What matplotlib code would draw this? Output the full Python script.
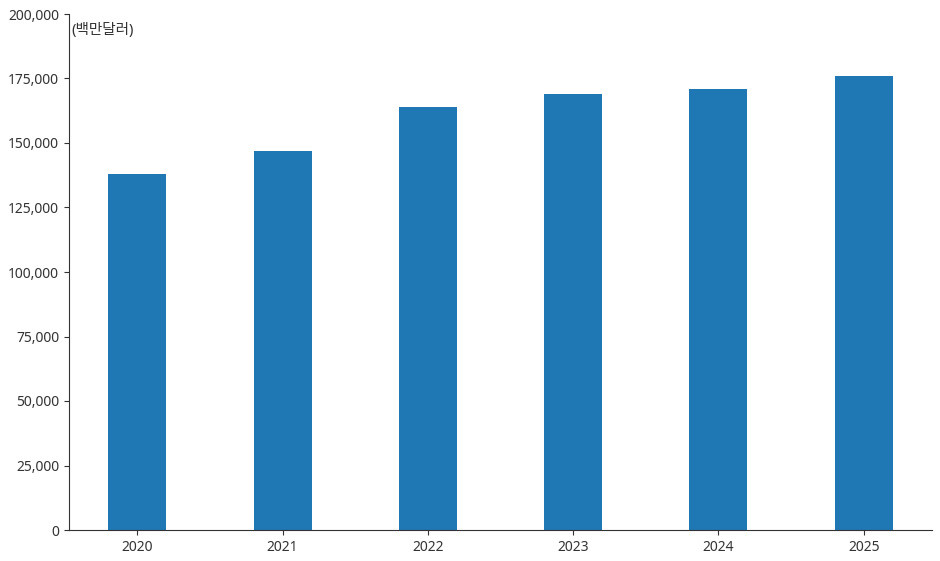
import matplotlib
matplotlib.use("Agg")
import matplotlib.pyplot as plt
from matplotlib.ticker import FuncFormatter

# ────────── Data ──────────
years  = ["2020", "2021", "2022", "2023", "2024", "2025"]
values = [138000, 147000, 164000, 169000, 171000, 176000]
unit   = "(백만달러)"

plt.rcParams["font.family"] = ["Noto Sans", "Noto Sans CJK KR", "DejaVu Sans"]

fig = plt.figure(figsize=(9.4, 5.61), dpi=100)
ax = fig.add_axes([69/940, 1 - 530/561, (932-69)/940, (530-14)/561])

x = list(range(len(years)))
ax.bar(x, values, width=0.4, color="#1f77b4")

ax.set_xticks(x)
ax.set_xticklabels(years)
ax.set_ylim(0, 200000)
ax.set_yticks(range(0, 200001, 25000))
ax.yaxis.set_major_formatter(FuncFormatter(lambda v, p: f"{int(v):,}"))

for s in ["top", "right"]:
    ax.spines[s].set_visible(False)
for s in ["left", "bottom"]:
    ax.spines[s].set_color("#333333")
ax.tick_params(colors="#333333", labelsize=10)

ax.text(0.003, 0.968, unit, transform=ax.transAxes, fontsize=10.5,
        color="#333333", va="center", ha="left")

fig.savefig("out.png", dpi=100)
